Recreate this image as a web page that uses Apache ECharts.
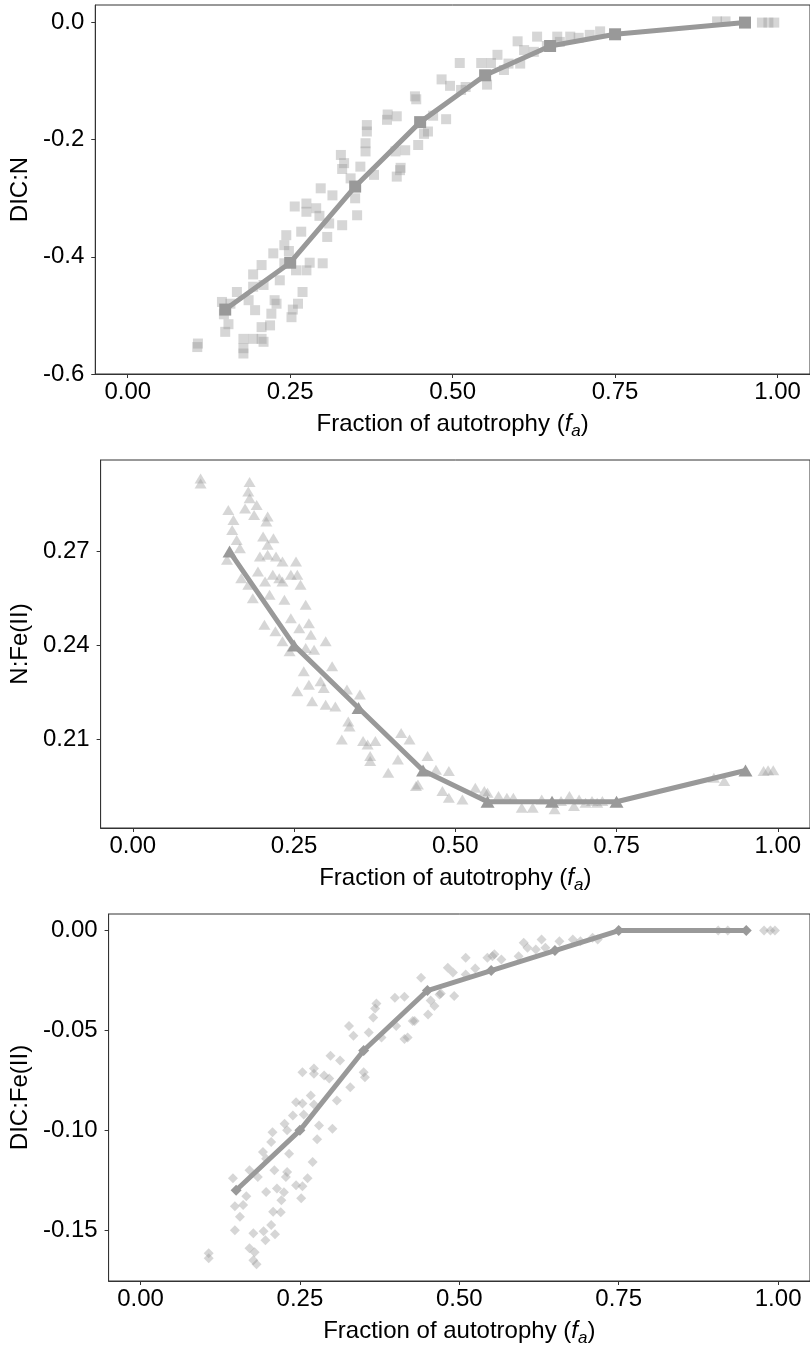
<!DOCTYPE html>
<html>
<head>
<meta charset="utf-8">
<script src="https://cdn.jsdelivr.net/npm/echarts@6/dist/echarts.min.js"></script>
<style>
html,body{margin:0;padding:0;background:#fff}
#main{width:810px;height:1348px}
</style>
</head>
<body>
<div id="main"></div>
<script>
// ticks
const xTicks = [0, 0.25, 0.5, 0.75, 1];
const dicnTicks = [-0.6, -0.4, -0.2, 0];
const nfeTicks = [0.21, 0.24, 0.27];
const dicfeTicks = [-0.15, -0.1, -0.05, 0];

// mean lines (fa steps)
const lineFa = [0.15, 0.25, 0.35, 0.45, 0.55, 0.65, 0.75, 0.95];
const dicnLine = [-0.49, -0.41, -0.28, -0.17, -0.09, -0.04, -0.02, 0.0];
const nfeLine = [0.27, 0.24, 0.22, 0.20, 0.19, 0.19, 0.19, 0.20];
const dicfeLine = [-0.13, -0.10, -0.06, -0.03, -0.02, -0.01, 0.0, 0.0];

// DIC:N scatter
const dicnFa = [0.107,0.108,0.178,0.178,0.150,0.155,0.145,0.158,0.148,0.178,0.193,0.206,0.209,0.206,0.219,0.221,0.226,0.229,0.196,0.186,
  0.168,0.193,0.209,0.252,0.254,0.262,0.269,0.206,0.224,0.234,0.193,0.241,0.259,0.275,0.280,0.300,0.241,0.244,0.267,0.248,
  0.257,0.275,0.275,0.290,0.295,0.307,0.310,0.330,0.353,0.297,0.315,0.328,0.333,0.330,0.343,0.358,0.350,0.379,0.366,0.366,
  0.368,0.368,0.399,0.414,0.400,0.412,0.427,0.414,0.419,0.442,0.444,0.447,0.456,0.420,0.462,0.470,0.490,0.483,0.496,0.511,
  0.513,0.520,0.544,0.559,0.553,0.569,0.579,0.586,0.604,0.600,0.610,0.630,0.625,0.645,0.661,0.681,0.665,0.694,0.711,0.727,
  0.907,0.920,0.976,0.986,0.995];
const dicnVal = [-0.554,-0.548,-0.565,-0.556,-0.528,-0.515,-0.477,-0.480,-0.498,-0.540,-0.540,-0.540,-0.545,-0.520,-0.517,-0.497,-0.474,-0.480,-0.491,-0.474,
  -0.460,-0.451,-0.448,-0.503,-0.490,-0.480,-0.460,-0.414,-0.394,-0.440,-0.430,-0.411,-0.423,-0.423,-0.410,-0.411,-0.380,-0.363,-0.357,-0.390,
  -0.314,-0.309,-0.323,-0.317,-0.330,-0.366,-0.343,-0.346,-0.329,-0.283,-0.295,-0.226,-0.240,-0.250,-0.266,-0.246,-0.300,-0.260,-0.206,-0.220,
  -0.186,-0.175,-0.166,-0.160,-0.157,-0.220,-0.218,-0.263,-0.252,-0.126,-0.131,-0.209,-0.190,-0.248,-0.186,-0.159,-0.165,-0.097,-0.108,-0.069,
  -0.115,-0.110,-0.069,-0.069,-0.106,-0.055,-0.081,-0.070,-0.070,-0.032,-0.047,-0.024,-0.050,-0.040,-0.024,-0.024,-0.033,-0.026,-0.021,-0.015,
  0.002,0.002,0.0,0.0,0.0];

// N:Fe(II) scatter
const nfeFa = [0.105,0.105,0.181,0.179,0.181,0.192,0.174,0.188,0.148,0.156,0.154,0.161,0.166,0.146,0.209,0.207,0.202,0.218,0.209,0.197,
  0.209,0.222,0.232,0.253,0.168,0.179,0.194,0.205,0.217,0.227,0.232,0.245,0.255,0.260,0.186,0.212,0.235,0.268,0.204,0.221,
  0.245,0.273,0.276,0.299,0.232,0.243,0.258,0.268,0.281,0.265,0.309,0.255,0.273,0.291,0.296,0.278,0.299,0.314,0.332,0.352,
  0.334,0.336,0.324,0.357,0.364,0.368,0.368,0.376,0.396,0.411,0.416,0.429,0.442,0.457,0.480,0.439,0.470,0.490,0.490,0.511,
  0.531,0.545,0.550,0.567,0.580,0.590,0.603,0.620,0.634,0.654,0.664,0.677,0.684,0.692,0.702,0.712,0.720,0.728,0.901,0.917,
  0.978,0.985,0.993];
const nfeVal = [0.2934,0.2918,0.2923,0.2892,0.2871,0.2849,0.2838,0.2817,0.2833,0.2801,0.2769,0.2737,0.2711,0.2674,0.2812,0.2796,0.2748,0.2743,0.2722,0.2684,
  0.2690,0.2684,0.2668,0.2668,0.2615,0.2594,0.2636,0.2604,0.2626,0.2615,0.2604,0.2626,0.2626,0.2594,0.2551,0.2562,0.2546,0.2530,0.2466,0.2445,
  0.2487,0.2471,0.2434,0.2413,0.2413,0.2381,0.2455,0.2392,0.2386,0.2317,0.2333,0.2253,0.2274,0.2285,0.2264,0.2221,0.2210,0.2205,0.2259,0.2243,
  0.2157,0.2141,0.2099,0.2094,0.2083,0.2046,0.2030,0.2094,0.1993,0.2035,0.2120,0.2099,0.1955,0.2046,0.1934,0.1950,0.2002,0.1998,0.1913,0.1907,
  0.1945,0.1934,0.1929,0.1918,0.1913,0.1913,0.1881,0.1881,0.1907,0.1876,0.1902,0.1918,0.1886,0.1907,0.1897,0.1902,0.1897,0.1902,0.1977,0.1966,
  0.1998,0.2001,0.2001];

// DIC:Fe(II) scatter
const dicfeFa = [0.107,0.107,0.171,0.179,0.177,0.182,0.148,0.177,0.193,0.196,0.205,0.211,0.156,0.161,0.148,0.166,0.208,0.220,0.197,0.214,
  0.225,0.221,0.252,0.244,0.254,0.262,0.228,0.230,0.210,0.184,0.171,0.145,0.233,0.270,0.197,0.192,0.205,0.207,0.226,0.230,
  0.244,0.254,0.239,0.256,0.267,0.272,0.280,0.277,0.301,0.254,0.272,0.272,0.288,0.298,0.313,0.296,0.308,0.329,0.352,0.350,
  0.327,0.334,0.358,0.378,0.365,0.368,0.370,0.399,0.414,0.401,0.427,0.419,0.440,0.461,0.451,0.471,0.414,0.430,0.455,0.469,
  0.492,0.482,0.490,0.510,0.544,0.552,0.555,0.566,0.593,0.601,0.607,0.629,0.620,0.635,0.657,0.678,0.690,0.709,0.717,0.906,
  0.921,0.978,0.988,0.995,0.510,0.525];
const dicfeVal = [-0.1615,-0.164,-0.159,-0.161,-0.165,-0.167,-0.150,-0.1515,-0.1505,-0.155,-0.1474,-0.152,-0.1432,-0.1374,-0.138,-0.133,-0.1407,-0.141,-0.1308,-0.1291,
  -0.131,-0.135,-0.134,-0.1275,-0.128,-0.124,-0.1233,-0.1208,-0.120,-0.1233,-0.120,-0.124,-0.1117,-0.1158,-0.1142,-0.1108,-0.1058,-0.101,-0.0967,-0.100,
  -0.0859,-0.0866,-0.0925,-0.092,-0.0826,-0.087,-0.0976,-0.1045,-0.0992,-0.0709,-0.0717,-0.069,-0.0726,-0.0627,-0.065,-0.074,-0.0851,-0.0784,-0.0734,-0.0709,
  -0.0477,-0.0526,-0.051,-0.0535,-0.0435,-0.039,-0.0365,-0.0336,-0.0331,-0.0477,-0.0452,-0.0535,-0.0236,-0.0377,-0.042,-0.0315,-0.0543,-0.0452,-0.035,-0.032,
  -0.0327,-0.0186,-0.021,-0.0136,-0.0136,-0.0128,-0.0119,-0.0145,-0.0128,-0.0061,-0.0086,-0.0045,-0.0095,-0.0086,-0.0053,-0.0045,-0.0053,-0.0036,-0.0045,0,
  0,0,0,0,-0.022,-0.019];

const FONT = 'Liberation Sans, Arial, sans-serif';
const AXIS = '#333';
const PT = 'rgba(153,153,153,0.5)';
const LN = '#999';

const zip = (a, b) => a.map((v, i) => [v, b[i]]);

const grids = [
  { left: 94, top: 5, width: 722, height: 369 },
  { left: 99, top: 460, width: 718, height: 368 },
  { left: 107, top: 914, width: 709, height: 369 }
].map(g => Object.assign(g, { show: true, borderColor: AXIS, borderWidth: 1, backgroundColor: 'transparent' }));

const xAxisFor = (i) => ({
  type: 'value', gridIndex: i, min: -0.05, max: 1.05,
  axisLine: { show: true, onZero: false, lineStyle: { color: AXIS, width: 1 } },
  axisTick: { show: true, length: 4, customValues: xTicks, lineStyle: { color: AXIS } },
  axisLabel: { customValues: xTicks, formatter: v => v.toFixed(2), fontSize: 24, color: '#000', fontFamily: FONT, margin: 6 },
  splitLine: { show: false },
  name: 'Fraction of autotrophy ({i|f}{s|a})',
  nameLocation: 'middle', nameGap: 35,
  nameTextStyle: {
    fontSize: 24, color: '#000', fontFamily: FONT,
    rich: {
      i: { fontSize: 24, fontStyle: 'italic', color: '#000', fontFamily: FONT },
      s: { fontSize: 17, fontStyle: 'italic', color: '#000', fontFamily: FONT, padding: [14, 0, 0, 0] }
    }
  }
});

const yAxisFor = (i, min, max, ticks, dp, name, gap) => ({
  type: 'value', gridIndex: i, min: min, max: max,
  axisLine: { show: true, onZero: false, lineStyle: { color: AXIS, width: 1 } },
  axisTick: { show: true, length: 4, customValues: ticks, lineStyle: { color: AXIS } },
  axisLabel: { customValues: ticks, formatter: v => v.toFixed(dp), fontSize: 24, color: '#000', fontFamily: FONT, margin: 11 },
  splitLine: { show: false },
  name: name, nameLocation: 'middle', nameGap: gap,
  nameTextStyle: { fontSize: 24, color: '#000', fontFamily: FONT }
});

const scatter = (i, data, sym, size) => ({
  type: 'scatter', xAxisIndex: i, yAxisIndex: i, data: data,
  symbol: sym, symbolSize: size, itemStyle: { color: PT }, silent: true
});
const meanLine = (i, data, sym, size) => ({
  type: 'line', xAxisIndex: i, yAxisIndex: i, data: data,
  symbol: sym, symbolSize: size, showSymbol: true,
  lineStyle: { color: LN, width: 5 }, itemStyle: { color: LN }, silent: true
});

const option = {
  animation: false,
  grid: grids,
  xAxis: [xAxisFor(0), xAxisFor(1), xAxisFor(2)],
  yAxis: [
    yAxisFor(0, -0.6, 0.03, dicnTicks, 1, 'DIC:N', 58),
    yAxisFor(1, 0.1816, 0.2993, nfeTicks, 2, 'N:Fe(II)', 63),
    yAxisFor(2, -0.1754, 0.0083, dicfeTicks, 2, 'DIC:Fe(II)', 71)
  ],
  series: [
    scatter(0, zip(dicnFa, dicnVal), 'rect', 10),
    meanLine(0, zip(lineFa, dicnLine), 'rect', 12),
    scatter(1, zip(nfeFa, nfeVal), 'triangle', [12, 10]),
    meanLine(1, zip(lineFa, nfeLine), 'triangle', [14, 12]),
    scatter(2, zip(dicfeFa, dicfeVal), 'diamond', 10),
    meanLine(2, zip(lineFa, dicfeLine), 'diamond', 11)
  ]
};

const myChart = echarts.init(document.getElementById('main'));
myChart.setOption(option);
</script>
</body>
</html>
